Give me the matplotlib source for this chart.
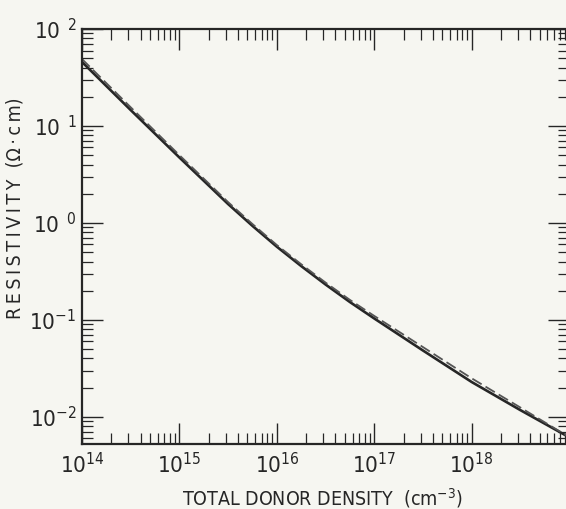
import numpy as np
import matplotlib
matplotlib.use("Agg")
import matplotlib.pyplot as plt

# resistivity vs. total donor density (log-log)
donor_density = [1e14, 3.16e14, 1e15, 3.16e15, 5.62e15, 1e16, 1.78e16, 3.16e16,
                 5.62e16, 1e17, 3.16e17, 1e18, 3.16e18, 1e19]
rho_solid = [45.7, 14.6, 4.73, 1.567, 0.933, 0.569, 0.359, 0.232,
             0.153, 0.1035, 0.0484, 0.0229, 0.01175, 0.00617]
rho_dashed = [49.0, 15.6, 5.0, 1.64, 0.975, 0.592, 0.375, 0.243,
              0.161, 0.110, 0.0525, 0.0250, 0.0125, 0.0062]

x_ticks = [1e14, 1e15, 1e16, 1e17, 1e18]
x_ticklabels = [r"$10^{14}$", r"$10^{15}$", r"$10^{16}$", r"$10^{17}$", r"$10^{18}$"]
y_ticks = [1e-2, 1e-1, 1e0, 1e1, 1e2]
y_ticklabels = [r"$10^{-2}$", r"$10^{-1}$", r"$10^{\;\;0}$", r"$10^{\;\;1}$", r"$10^{\;\;2}$"]

plt.rcParams["font.family"] = ["DejaVu Sans"]
plt.rcParams["font.stretch"] = "condensed"
plt.rcParams["mathtext.fontset"] = "custom"
plt.rcParams["mathtext.rm"] = "DejaVu Sans:stretch=condensed"
plt.rcParams["mathtext.it"] = "DejaVu Sans:stretch=condensed"
plt.rcParams["mathtext.bf"] = "DejaVu Sans:stretch=condensed:bold"

bg = "#f6f6f1"
ink = "#262626"

fig = plt.figure(figsize=(5.66, 5.09), dpi=100, facecolor=bg)
ax = fig.add_axes([82 / 566, 1 - 444 / 509, (569 - 82) / 566, (444 - 29) / 509])
ax.set_facecolor(bg)

ax.plot(donor_density, rho_solid, color=ink, lw=1.9, solid_capstyle="butt")
ax.plot(donor_density, rho_dashed, color="#555555", lw=1.3, dashes=(6, 2.5))

ax.set_xscale("log")
ax.set_yscale("log")
ax.set_xlim(1e14, 1e19)
ax.set_ylim(10 ** -2.28, 1e2)

ax.set_xticks(x_ticks)
ax.set_xticklabels(x_ticklabels)
ax.set_yticks(y_ticks)
ax.set_yticklabels(y_ticklabels)
ax.xaxis.set_minor_locator(matplotlib.ticker.LogLocator(base=10, subs=np.arange(2, 10), numticks=20))
ax.yaxis.set_minor_locator(matplotlib.ticker.LogLocator(base=10, subs=np.arange(2, 10), numticks=20))
ax.xaxis.set_minor_formatter(matplotlib.ticker.NullFormatter())
ax.yaxis.set_minor_formatter(matplotlib.ticker.NullFormatter())

ax.tick_params(which="both", direction="in", top=True, right=True, color=ink)
ax.tick_params(which="major", length=15, width=1.0)
ax.tick_params(which="minor", length=8, width=0.9)
ax.tick_params(axis="x", which="major", pad=6, labelsize=16, labelcolor=ink)
ax.tick_params(axis="y", which="major", pad=4, labelsize=16, labelcolor=ink)

for s in ax.spines.values():
    s.set_color(ink)
    s.set_linewidth(1.6)

# y title is letter-spaced with thin spaces
ylabel = "\u2009".join("RESISTIVITY") + "  (Ω\u2009·\u2009c\u2009m)"

fig.text(322 / 566, 1 - 505 / 509, r"TOTAL DONOR DENSITY  (cm$^{-3}$)",
         ha="center", va="baseline", fontsize=14, color=ink, fontstretch="condensed")
fig.text(15 / 566, 1 - 208 / 509, ylabel, rotation=90,
         ha="center", va="center", fontsize=14, color=ink, fontstretch="condensed")

fig.savefig("out.png", dpi=100, facecolor=bg)
